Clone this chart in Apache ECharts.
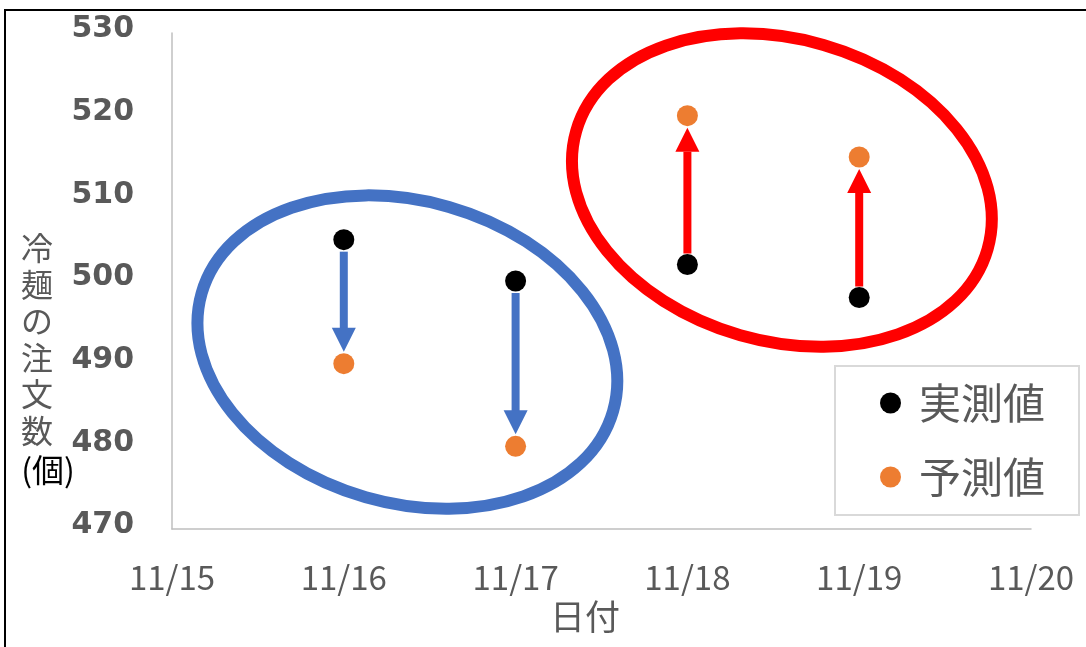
<!DOCTYPE html>
<html>
<head>
<meta charset="utf-8">
<script src="https://cdn.jsdelivr.net/npm/echarts@6/dist/echarts.min.js"></script>
<style>
  html, body { margin: 0; padding: 0; background: #ffffff; }
  #chart { width: 1086px; height: 647px; }
</style>
</head>
<body>
<div id="chart"></div>
<script>
// Tick labels along the date axis (one per day)
const xTickLabels = ['11/15', '11/16', '11/17', '11/18', '11/19', '11/20'];
// Value axis ticks
const yTicks = [470, 480, 490, 500, 510, 520, 530];
// Observed days
const dates = ['11/16', '11/17', '11/18', '11/19'];
// 実測値 (measured) and 予測値 (forecast) order counts
const actual = [505, 500, 502, 498];
const predicted = [490, 480, 520, 515];
// Grouping rings around the forecast misses (centre in axis units: day index, value)
const groupCenterDay = [1.37, 3.55];
const groupCenterValue = [491.4, 511.0];

const BLUE = '#4472C4';
const RED = '#FF0000';
const ORANGE = '#ED7D31';
const GREY_TEXT = '#595959';
const AXIS_GREY = '#BFBFBF';
const CJK = '"Noto Sans CJK JP", "Noto Sans", sans-serif';

const xIndex = d => xTickLabels.indexOf(d);
const actualData = dates.map((d, i) => [xIndex(d), actual[i]]);
const predictedData = dates.map((d, i) => [xIndex(d), predicted[i]]);
const arrowData = dates.map((d, i) => [xIndex(d), actual[i], predicted[i]]);
const ringData = groupCenterDay.map((d, i) => [d, groupCenterValue[i]]);
const ringColors = [BLUE, RED];

const chart = echarts.init(document.getElementById('chart'), null, { renderer: 'canvas' });

chart.setOption({
  animation: false,
  backgroundColor: '#ffffff',
  grid: { left: 172, right: 55, top: 33, bottom: 118, containLabel: false },
  xAxis: {
    type: 'value',
    min: 0,
    max: xTickLabels.length - 1,
    interval: 1,
    name: '日付',
    nameLocation: 'middle',
    nameGap: 59,
    nameTextStyle: { fontFamily: CJK, fontSize: 35, color: GREY_TEXT, padding: [0, 33, 0, 0] },
    axisLine: { show: true, onZero: false, lineStyle: { color: AXIS_GREY, width: 1.5 } },
    axisTick: { show: false },
    splitLine: { show: false },
    axisLabel: {
      margin: 32,
      fontFamily: CJK,
      fontSize: 33,
      color: GREY_TEXT,
      formatter: v => xTickLabels[v] || ''
    }
  },
  yAxis: {
    type: 'value',
    min: yTicks[0],
    max: yTicks[yTicks.length - 1],
    interval: yTicks[1] - yTicks[0],
    axisLine: { show: true, lineStyle: { color: AXIS_GREY, width: 1.5 } },
    axisTick: { show: false },
    splitLine: { show: false },
    axisLabel: {
      margin: 38,
      formatter: v => '{n|' + v + '}',
      rich: {
        n: {
          fontFamily: '"DejaVu Sans", Verdana, sans-serif',
          fontWeight: 'bold',
          fontSize: 30,
          color: GREY_TEXT,
          padding: [0, 0, 7, 0]
        }
      }
    }
  },
  legend: {
    orient: 'vertical',
    left: 835,
    top: 366,
    padding: [15, 34, 16, 45],
    itemGap: 30,
    itemWidth: 21,
    itemHeight: 21,
    icon: 'circle',
    borderColor: '#D9D9D9',
    borderWidth: 2,
    data: ['実測値', '予測値'],
    textStyle: { fontFamily: CJK, fontSize: 42, lineHeight: 44, color: GREY_TEXT, padding: [0, 0, 0, 13] }
  },
  graphic: [
    {
      type: 'rect',
      shape: { x: 5, y: 10, width: 1200, height: 800 },
      style: { fill: 'none', stroke: '#000000', lineWidth: 2 },
      silent: true,
      z: 100
    },
    {
      type: 'text',
      x: 37,
      y: 230,
      style: {
        text: '冷\n麺\nの\n注\n文\n数',
        fontFamily: CJK,
        fontSize: 32,
        lineHeight: 36.5,
        fill: GREY_TEXT,
        align: 'center',
        verticalAlign: 'top'
      }
    },
    {
      type: 'text',
      x: 48,
      y: 470,
      style: {
        text: '(個)',
        fontFamily: CJK,
        fontSize: 32,
        fill: '#000000',
        align: 'center',
        verticalAlign: 'middle'
      }
    }
  ],
  series: [
    {
      // rings that group the under- and over-forecast days
      type: 'custom',
      name: 'rings',
      silent: true,
      clip: false,
      z: 1,
      data: ringData,
      renderItem: (params, api) => {
        const c = api.coord([api.value(0), api.value(1)]);
        return {
          type: 'ellipse',
          x: c[0],
          y: c[1],
          rotation: -16 * Math.PI / 180,
          shape: { cx: 0, cy: 0, rx: 214, ry: 151 },
          style: { fill: 'none', stroke: ringColors[params.dataIndex], lineWidth: 12 }
        };
      }
    },
    {
      // arrows from the measured value to the forecast value
      type: 'custom',
      name: 'arrows',
      silent: true,
      clip: false,
      z: 2,
      data: arrowData,
      renderItem: (params, api) => {
        const s = api.coord([api.value(0), api.value(1)]);
        const e = api.coord([api.value(0), api.value(2)]);
        const dir = e[1] > s[1] ? 1 : -1;
        const color = dir > 0 ? BLUE : RED;
        const y0 = s[1] + dir * 12;
        const tip = e[1] - dir * 12;
        const base = tip - dir * 24;
        return {
          type: 'group',
          children: [
            {
              type: 'rect',
              shape: { x: s[0] - 4, y: Math.min(y0, base), width: 8, height: Math.abs(base - y0) + 1 },
              style: { fill: color }
            },
            {
              type: 'polygon',
              shape: { points: [[s[0] - 12, base], [s[0] + 12, base], [s[0], tip]] },
              style: { fill: color }
            }
          ]
        };
      }
    },
    {
      type: 'scatter',
      name: '実測値',
      symbol: 'circle',
      symbolSize: 21,
      z: 3,
      itemStyle: { color: '#000000', opacity: 1 },
      data: actualData
    },
    {
      type: 'scatter',
      name: '予測値',
      symbol: 'circle',
      symbolSize: 21,
      z: 3,
      itemStyle: { color: ORANGE, opacity: 1 },
      data: predictedData
    }
  ]
});
</script>
</body>
</html>
